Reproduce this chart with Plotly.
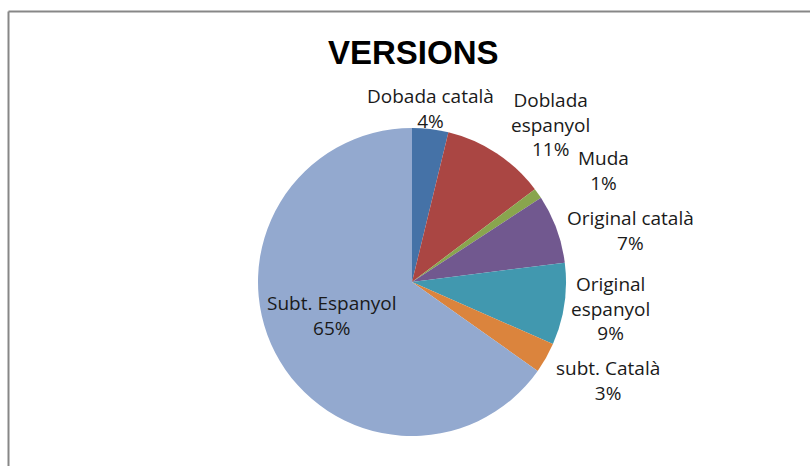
import plotly.graph_objects as go

labels = ["Dobada català", "Doblada espanyol", "Muda", "Original català",
          "Original espanyol", "subt. Català", "Subt. Espanyol"]
values = [3.8, 10.9, 1.1, 7.2, 8.6, 3.2, 65.2]
display = ["Dobada català<br>4%", "Doblada<br>espanyol<br>11%", "Muda<br>1%",
           "Original català<br>7%", "Original<br>espanyol<br>9%",
           "subt. Català<br>3%", "Subt. Espanyol<br>65%"]
colors = ["#4572A7", "#AA4643", "#89A54E", "#71588F", "#4198AF", "#DB843D", "#93A9CF"]

W, H = 810, 466
cx, cy, r = 412, 282, 154

fig = go.Figure(go.Pie(
    labels=labels, values=values, sort=False, direction="clockwise", rotation=0,
    marker=dict(colors=colors, line=dict(width=0)),
    textinfo="none", hoverinfo="label+percent", showlegend=False,
    domain=dict(x=[(cx - r) / W, (cx + r) / W], y=[(H - cy - r) / H, (H - cy + r) / H]),
))

# label positions (pixel centres)
label_pos = [(430, 108), (550, 125), (603, 170), (630, 230), (610, 308), (608, 380), (332, 315)]
for txt, (x, y) in zip(display, label_pos):
    fig.add_annotation(x=x / W, y=1 - y / H, xref="paper", yref="paper", text=txt,
                       showarrow=False, xanchor="center", yanchor="middle",
                       font=dict(family="Open Sans, Liberation Sans, sans-serif", size=19, color="#1a1a1a"))

fig.add_annotation(x=413 / W, y=1 - 53 / H, xref="paper", yref="paper", text="<b>VERSIONS</b>",
                   showarrow=False, xanchor="center", yanchor="middle",
                   font=dict(family="Liberation Sans, sans-serif", size=33, color="#000000"))

# chart-area border (top and left edges visible)
fig.add_shape(type="line", xref="paper", yref="paper", x0=8.5 / W, x1=1.02, y0=1 - 11.5 / H, y1=1 - 11.5 / H,
              line=dict(color="#878787", width=2))
fig.add_shape(type="line", xref="paper", yref="paper", x0=8.5 / W, x1=8.5 / W, y0=1 - 11.5 / H, y1=-0.02,
              line=dict(color="#878787", width=2))

fig.update_layout(width=W, height=H, margin=dict(l=0, r=0, t=0, b=0),
                  paper_bgcolor="white", plot_bgcolor="white")
fig.write_html("out.html", config={"displayModeBar": False},
               post_script="document.body.style.margin='0';document.body.style.overflow='hidden';")
